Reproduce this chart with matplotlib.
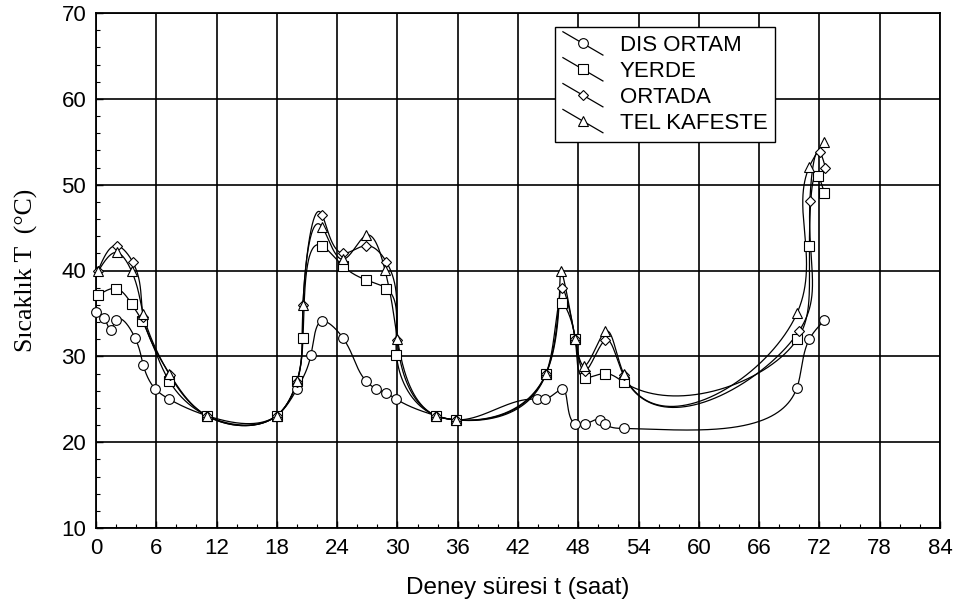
import numpy as np
import matplotlib
matplotlib.use("Agg")
import matplotlib.pyplot as plt
from matplotlib.lines import Line2D
from matplotlib.legend_handler import HandlerBase
from matplotlib.ticker import MultipleLocator

# ---------------- data ----------------
x_dis = [0.0, 0.8, 1.45, 2.0, 3.9, 4.7, 5.9, 7.3, 11.0, 18.0, 20.0, 21.4, 22.5, 24.6,
         26.9, 27.9, 28.9, 29.9, 33.8, 35.8, 43.85, 44.7, 46.4, 47.7, 48.7, 50.2,
         50.7, 52.5, 69.75, 71.0, 72.5]
y_dis = [35.2, 34.5, 33.1, 34.2, 32.1, 29.0, 26.2, 25.0, 23.1, 23.1, 26.2, 30.2, 34.1, 32.1,
         27.1, 26.2, 25.7, 25.0, 23.1, 22.6, 25.0, 25.0, 26.2, 22.1, 22.1, 22.6,
         22.1, 21.6, 26.3, 32.0, 34.2]

x_yer = [0.2, 2.0, 3.55, 4.6, 7.3, 11.0, 18.0, 20.0, 20.6, 22.5, 24.6, 26.9, 28.9, 29.9,
         33.8, 35.8, 44.8, 46.4, 47.7, 48.7, 50.7, 52.5, 69.8, 71.0, 71.9, 72.5]
y_yer = [37.1, 37.9, 36.1, 34.1, 27.1, 23.1, 23.1, 27.1, 32.1, 42.9, 40.5, 38.9, 37.9, 30.2,
         23.1, 22.6, 28.0, 36.2, 32.0, 27.5, 28.0, 27.0, 32.0, 42.8, 51.0, 49.0]

x_ort = [0.2, 2.05, 3.65, 4.7, 7.4, 11.0, 18.0, 20.0, 20.6, 22.5, 24.6, 26.9, 28.9, 30.0,
         33.8, 35.8, 44.8, 46.4, 47.7, 48.7, 50.7, 52.5, 70.0, 71.05, 72.05, 72.6]
y_ort = [40.0, 42.9, 41.0, 34.6, 27.8, 23.1, 23.1, 27.0, 36.0, 46.5, 42.0, 42.9, 41.0, 31.9,
         23.1, 22.6, 28.0, 38.0, 32.0, 28.3, 31.9, 27.8, 33.0, 48.1, 53.8, 52.0]

x_tel = [0.2, 2.05, 3.55, 4.7, 7.3, 11.0, 18.0, 20.0, 20.6, 22.5, 24.6, 26.9, 28.75, 30.0,
         33.8, 35.8, 44.8, 46.3, 47.7, 48.6, 50.7, 52.5, 69.8, 71.0, 72.5]
y_tel = [39.9, 42.1, 39.9, 34.9, 27.9, 23.1, 23.1, 27.1, 36.0, 45.1, 41.3, 44.1, 40.1, 32.0,
         23.1, 22.6, 28.0, 39.9, 32.0, 28.9, 32.9, 28.0, 35.1, 52.1, 55.0]

labels = ["DIS ORTAM", "YERDE", "ORTADA", "TEL KAFESTE"]
x_ticks = list(range(0, 85, 6))
y_ticks = list(range(10, 71, 10))

# ---------------- helpers ----------------
PX_X = 10.05  # pixels per hour (used only for parametrisation)
PX_Y = 8.58   # pixels per degree


def natural_spline(t, y, tt):
    t = np.asarray(t, float)
    y = np.asarray(y, float)
    n = len(t)
    h = np.diff(t)
    A = np.zeros((n, n))
    b = np.zeros(n)
    A[0, 0] = 1.0
    A[-1, -1] = 1.0
    for i in range(1, n - 1):
        A[i, i - 1] = h[i - 1]
        A[i, i] = 2 * (h[i - 1] + h[i])
        A[i, i + 1] = h[i]
        b[i] = 6 * ((y[i + 1] - y[i]) / h[i] - (y[i] - y[i - 1]) / h[i - 1])
    M = np.linalg.solve(A, b)
    idx = np.clip(np.searchsorted(t, tt) - 1, 0, n - 2)
    t0 = t[idx]
    t1 = t[idx + 1]
    hh = t1 - t0
    a = (t1 - tt) / hh
    bb = (tt - t0) / hh
    return a * y[idx] + bb * y[idx + 1] + ((a ** 3 - a) * M[idx] + (bb ** 3 - bb) * M[idx + 1]) * hh ** 2 / 6


def smooth_curve(xs, ys, n=2000):
    xs = np.asarray(xs, float)
    ys = np.asarray(ys, float)
    d = np.hypot(np.diff(xs) * PX_X, np.diff(ys) * PX_Y)
    t = np.concatenate([[0], np.cumsum(d)])
    tt = np.linspace(0, t[-1], n)
    return natural_spline(t, xs, tt), natural_spline(t, ys, tt)


class HandlerDiag(HandlerBase):
    def create_artists(self, legend, orig_handle, xdescent, ydescent, width, height, fontsize, trans):
        x0 = -xdescent
        y0 = -ydescent
        line = Line2D([x0, x0 + width], [y0 + height * 1.25, y0 - height * 0.25],
                      color="black", lw=orig_handle.get_linewidth())
        mk = Line2D([x0 + width * 0.5], [y0 + height * 0.5], linestyle="none",
                    marker=orig_handle.get_marker(), markersize=orig_handle.get_markersize(),
                    markerfacecolor="white", markeredgecolor="black",
                    markeredgewidth=orig_handle.get_markeredgewidth())
        for a in (line, mk):
            a.set_transform(trans)
        return [line, mk]


# ---------------- figure ----------------
plt.rcParams["font.family"] = ["Liberation Sans", "DejaVu Sans"]
fig = plt.figure(figsize=(9.59, 6.08), dpi=100)
ax = fig.add_axes([96 / 959, 1 - 528 / 608, (940 - 96) / 959, (528 - 13) / 608])

series = [
    (x_dis, y_dis, "o", 7.0),
    (x_yer, y_yer, "s", 6.5),
    (x_ort, y_ort, "D", 5.5),
    (x_tel, y_tel, "^", 7.0),
]
handles = []
for (xs, ys, mk, ms), lab in zip(series, labels):
    cx, cy = smooth_curve(xs, ys)
    ax.plot(cx, cy, color="black", lw=0.9, zorder=3)
    ax.plot(xs, ys, linestyle="none", marker=mk, markersize=ms, markerfacecolor="white",
            markeredgecolor="black", markeredgewidth=0.8, zorder=4, clip_on=False)
    handles.append(Line2D([], [], color="black", lw=0.9, marker=mk, markersize=ms,
                          markerfacecolor="white", markeredgecolor="black",
                          markeredgewidth=0.8, label=lab))

ax.set_xlim(0, 84)
ax.set_ylim(10, 70)
ax.set_xticks(x_ticks)
ax.set_yticks(y_ticks)
ax.xaxis.set_minor_locator(MultipleLocator(2))
ax.yaxis.set_minor_locator(MultipleLocator(2))
ax.tick_params(which="both", direction="in", top=False, right=False, colors="black",
               labelsize=16)
ax.tick_params(which="major", length=5, width=1.0, pad=7)
ax.tick_params(which="minor", length=3, width=0.8)
ax.grid(True, which="major", color="black", lw=1.2)
ax.set_axisbelow(True)
for s in ax.spines.values():
    s.set_linewidth(1.3)
    s.set_color("black")

ax.set_xlabel("Deney süresi t (saat)", fontsize=17.5, labelpad=13)
ax.set_ylabel("Sıcaklık T  (°C)", fontsize=18.5, labelpad=17,
              family=["Liberation Serif", "DejaVu Serif"])

leg = ax.legend(handles=handles, loc="upper left", bbox_to_anchor=(0.544, 0.972),
                handler_map={Line2D: HandlerDiag()}, fontsize=16, frameon=True,
                fancybox=False, framealpha=1, edgecolor="black", borderpad=0.35,
                labelspacing=0.22, handlelength=1.8, handletextpad=0.75, borderaxespad=0)
leg.get_frame().set_linewidth(1.0)
leg.set_zorder(10)

fig.savefig("out.png", dpi=100)
